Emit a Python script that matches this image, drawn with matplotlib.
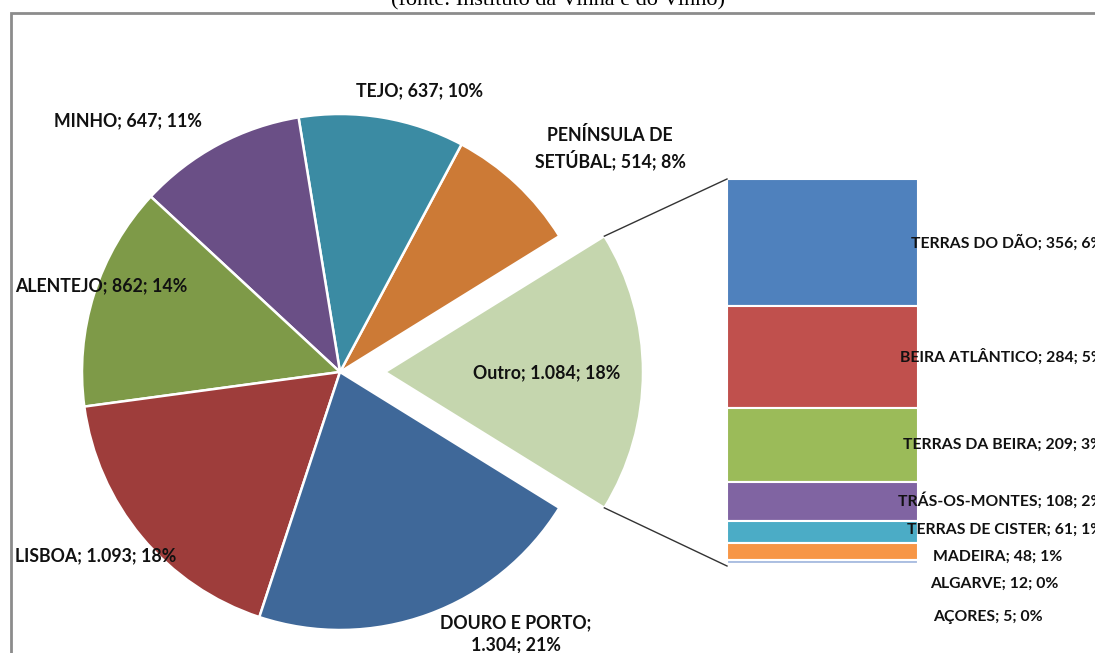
import matplotlib.pyplot as plt
import numpy as np
from matplotlib.patches import Rectangle

## pie data (main regions + "Outro")
pie_labels = ['Outro', 'PENÍNSULA DE\nSETÚBAL', 'TEJO', 'MINHO', 'ALENTEJO', 'LISBOA', 'DOURO E PORTO']
pie_values = [1084, 514, 637, 647, 862, 1093, 1304]
pie_text = ['Outro; 1.084; 18%', 'PENÍNSULA DE\nSETÚBAL; 514; 8%', 'TEJO; 637; 10%',
            'MINHO; 647; 11%', 'ALENTEJO; 862; 14%', 'LISBOA; 1.093; 18%',
            'DOURO E PORTO;\n1.304; 21%']
pie_colors = ['#c5d6ae', '#cc7a36', '#3b8ba3', '#6a4f86', '#7e9a48', '#9e3d3b', '#3f6899']

## bar data (breakdown of "Outro")
bar_labels = ['TERRAS DO DÃO', 'BEIRA ATLÂNTICO', 'TERRAS DA BEIRA', 'TRÁS-OS-MONTES',
              'TERRAS DE CISTER', 'MADEIRA', 'ALGARVE', 'AÇORES']
bar_values = [356, 284, 209, 108, 61, 48, 12, 5]
bar_pct = ['6%', '5%', '3%', '2%', '1%', '1%', '0%', '0%']
bar_colors = ['#4f81bd', '#c0504d', '#9bbb59', '#8064a2', '#4bacc6', '#f79646', '#a9bde0', '#d9a0a0']

W, H = 1095, 653
fig = plt.figure(figsize=(W / 100, H / 100), dpi=100)
ax = fig.add_axes([0, 0, 1, 1])

def Y(py):
    return H - py

FONT = 'Lato'
fs = 12.8

# frame + cut-off title
ax.add_patch(Rectangle((11, -20), W + 20, Y(13) + 20, fill=False, ec='#8c8c8c', lw=2))
ax.text(558, Y(5), '(fonte: Instituto da Vinha e do Vinho)', family='Liberation Serif',
        fontsize=16, ha='center', va='baseline', clip_on=False)

# pie (explode is in data units here)
cx, cy, r = 340, Y(372), 258
total = sum(pie_values)
start = -pie_values[0] / total * 180
shift = 45
explode = [shift] + [0] * (len(pie_values) - 1)
wedges, _ = ax.pie(pie_values, colors=pie_colors, startangle=start, counterclock=True,
                   center=(cx, cy), radius=r, explode=explode,
                   wedgeprops=dict(edgecolor='white', linewidth=1.8))
ax.set_aspect('equal')
ax.set_xlim(0, W)
ax.set_ylim(0, H)
ax.axis('off')

# pie labels (pixel positions)
lab_pos = [(547, 373, 'center'), (610, 148, 'center'), (420, 91, 'center'),
           (128, 121, 'center'), (15, 286, 'left'), (15, 556, 'left'), (516, 634, 'center')]
for t, (px, py, ha) in zip(pie_text, lab_pos):
    ax.text(px, Y(py), t, family=FONT, fontweight='bold', fontsize=fs,
            ha=ha, va='center', linespacing=1.35, color='#111111')

# stacked bar
bx0, bx1 = 727, 918
btop, bbot = Y(179), Y(566)
scale = (btop - bbot) / sum(bar_values)
cum = np.cumsum([0] + bar_values)
for i, v in enumerate(bar_values):
    bottom = btop - cum[i + 1] * scale
    ax.bar((bx0 + bx1) / 2, v * scale, width=bx1 - bx0, bottom=bottom,
           color=bar_colors[i], edgecolor='white', linewidth=1.5)

# connector lines from exploded slice to bar
ocx = cx + shift
a1 = np.deg2rad(-start)
a2 = np.deg2rad(start)
ax.plot([ocx + r * np.cos(a1), bx0], [cy + r * np.sin(a1), btop], color='#333333', lw=1)
ax.plot([ocx + r * np.cos(a2), bx0], [cy + r * np.sin(a2), bbot], color='#333333', lw=1)

# bar labels
bar_lab_pos = [(911, 243, 'left'), (900, 357, 'left'), (903, 445, 'left'), (898, 500, 'left'),
               (907, 530, 'left'), (998, 557, 'center'), (994, 584, 'center'), (988, 617, 'center')]
for lab, v, p, (px, py, ha) in zip(bar_labels, bar_values, bar_pct, bar_lab_pos):
    ax.text(px, Y(py), f'{lab}; {v}; {p}', family=FONT, fontweight='bold', fontsize=11.3,
            ha=ha, va='center', color='#111111')

fig.savefig('out.png', dpi=100)
